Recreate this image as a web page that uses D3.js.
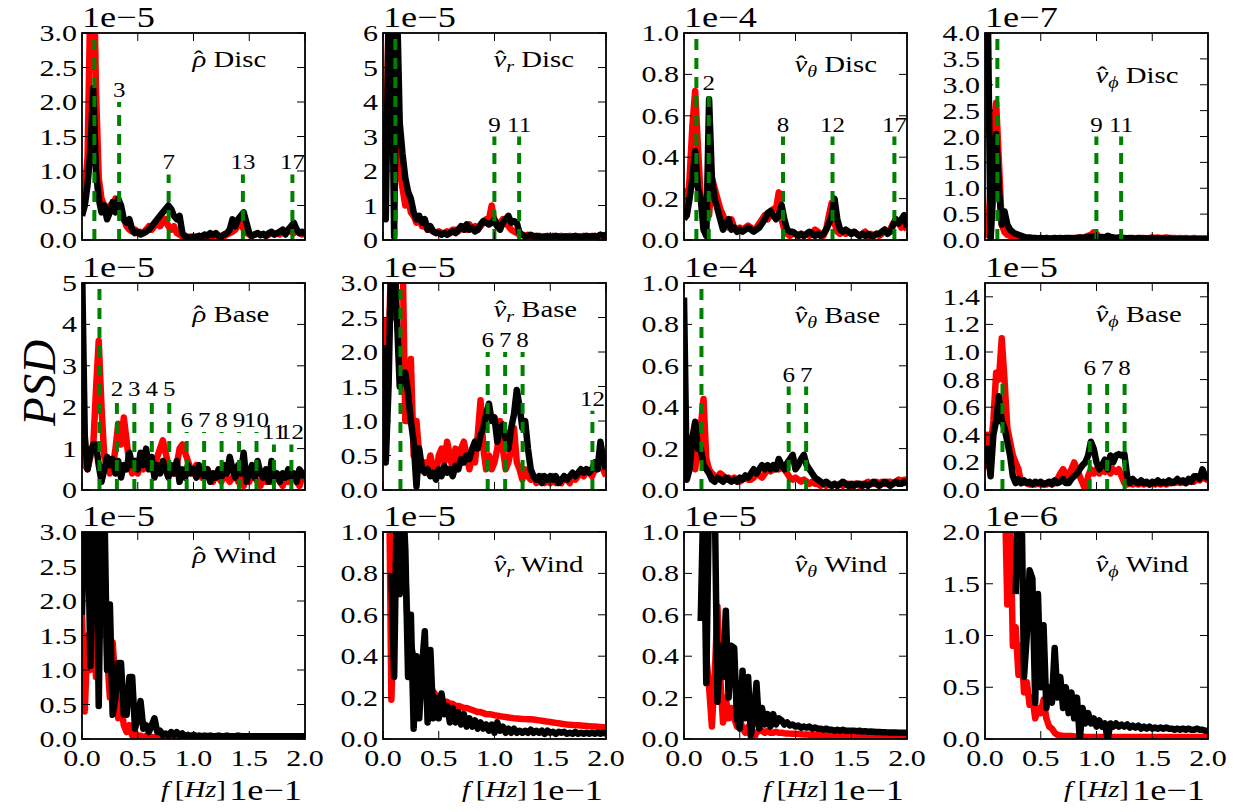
<!DOCTYPE html>
<html>
<head>
<meta charset="utf-8">
<script src="https://cdn.jsdelivr.net/npm/d3@7"></script>
<style>
  body { margin: 0; background: #fff; }
  text { font-family: 'Liberation Serif', 'Times New Roman', serif; fill: #000; }
</style>
</head>
<body>
<div id="chart"></div>
<script>
var width = 1237,
    height = 812;

// frequency grid, units of 1e-1 Hz
var freq = d3.range(81).map(function(i){ return i * 0.025; });

// ---- row 1 : Disc ----
var rhoDiscRed = [0.5, 0.7, 1.2, 3.5, 4.5, 2.2, 0.9, 0.6, 0.5, 0.35,
 0.5, 0.45, 0.6, 0.5, 0.35, 0.3, 0.2, 0.15, 0.12, 0.15,
 0.1, 0.12, 0.1, 0.15, 0.2, 0.15, 0.2, 0.28, 0.2, 0.25,
 0.3, 0.2, 0.15, 0.2, 0.1, 0.08, 0.05, 0.06, 0.04, 0.05,
 0.04, 0.05, 0.06, 0.04, 0.05, 0.06, 0.05, 0.04, 0.06, 0.05,
 0.06, 0.05, 0.08, 0.1, 0.12, 0.15, 0.22, 0.25, 0.15, 0.1,
 0.08, 0.06, 0.08, 0.1, 0.07, 0.08, 0.06, 0.08, 0.1, 0.08,
 0.1, 0.08, 0.12, 0.1, 0.15, 0.12, 0.1, 0.15, 0.1, 0.08, 0.1];
var rhoDiscBlack = [0.35, 0.5, 0.8, 1.3, 2.2, 1.0, 0.6, 0.4, 0.5, 0.3,
 0.4, 0.55, 0.4, 0.6, 0.5, 0.3, 0.25, 0.3, 0.15, 0.1,
 0.12, 0.08, 0.1, 0.12, 0.15, 0.2, 0.25, 0.3, 0.35, 0.4,
 0.45, 0.5, 0.45, 0.35, 0.3, 0.35, 0.1, 0.05, 0.04, 0.03,
 0.05, 0.04, 0.06, 0.05, 0.08, 0.06, 0.1, 0.07, 0.1, 0.06,
 0.05, 0.08, 0.1, 0.15, 0.3, 0.2, 0.3, 0.35, 0.4, 0.25,
 0.1, 0.06, 0.08, 0.1, 0.07, 0.09, 0.06, 0.1, 0.12, 0.08,
 0.1, 0.12, 0.15, 0.08, 0.15, 0.2, 0.25, 0.15, 0.1, 0.12, 0.08];
var vrDiscRed = [3.7, 2.0, 6.5, 7.0, 6.5, 3.0, 2.0, 1.5, 1.0, 1.2,
 0.8, 0.7, 0.5, 0.6, 0.4, 0.4, 0.3, 0.3, 0.25, 0.2,
 0.25, 0.2, 0.2, 0.25, 0.2, 0.3, 0.3, 0.25, 0.35, 0.4,
 0.3, 0.45, 0.35, 0.4, 0.3, 0.4, 0.5, 0.6, 0.6, 1.0,
 0.5, 0.4, 0.5, 0.6, 0.5, 0.4, 0.3, 0.25, 0.2, 0.15,
 0.15, 0.12, 0.15, 0.1, 0.12, 0.1, 0.12, 0.1, 0.1, 0.12,
 0.1, 0.12, 0.1, 0.1, 0.12, 0.1, 0.1, 0.12, 0.1, 0.1,
 0.1, 0.1, 0.12, 0.1, 0.1, 0.12, 0.1, 0.1, 0.15, 0.12, 0.15];
var vrDiscBlack = [3.5, 0.6, 6.5, 7.0, 0.1, 7.0, 3.4, 2.5, 1.8, 1.4,
 1.2, 0.8, 0.6, 0.7, 0.5, 0.6, 0.3, 0.4, 0.25, 0.2,
 0.2, 0.15, 0.2, 0.15, 0.2, 0.25, 0.2, 0.3, 0.4, 0.3,
 0.45, 0.3, 0.35, 0.25, 0.3, 0.45, 0.55, 0.5, 0.45, 0.5,
 0.6, 0.4, 0.3, 0.5, 0.6, 0.7, 0.5, 0.55, 0.5, 0.2,
 0.15, 0.1, 0.12, 0.15, 0.1, 0.12, 0.1, 0.08, 0.1, 0.1,
 0.08, 0.1, 0.12, 0.1, 0.08, 0.1, 0.1, 0.08, 0.1, 0.12,
 0.1, 0.08, 0.1, 0.12, 0.1, 0.1, 0.12, 0.1, 0.15, 0.12, 0.15];
var vthDiscRed = [0.25, 0.12, 0.3, 0.55, 0.72, 0.45, 0.2, 0.15, 0.1, 0.12,
 0.3, 0.25, 0.2, 0.15, 0.12, 0.08, 0.06, 0.1, 0.06, 0.05,
 0.06, 0.05, 0.06, 0.07, 0.06, 0.05, 0.06, 0.08, 0.1, 0.12,
 0.1, 0.12, 0.15, 0.15, 0.23, 0.1, 0.05, 0.03, 0.02, 0.03,
 0.03, 0.02, 0.03, 0.02, 0.03, 0.02, 0.03, 0.05, 0.04, 0.03,
 0.02, 0.05, 0.12, 0.18, 0.08, 0.04, 0.03, 0.04, 0.03, 0.04,
 0.03, 0.04, 0.03, 0.02, 0.03, 0.04, 0.02, 0.03, 0.02, 0.03,
 0.02, 0.03, 0.05, 0.04, 0.05, 0.08, 0.1, 0.08, 0.06, 0.07, 0.05];
var vthDiscBlack = [0.1, 0.12, 0.2, 0.3, 0.43, 0.25, 0.2, 0.05, 0.02, 0.68,
 0.3, 0.2, 0.15, 0.1, 0.05, 0.08, 0.1, 0.05, 0.06, 0.04,
 0.05, 0.04, 0.05, 0.06, 0.05, 0.04, 0.05, 0.06, 0.08, 0.1,
 0.13, 0.14, 0.12, 0.1, 0.12, 0.17, 0.1, 0.05, 0.04, 0.04,
 0.03, 0.02, 0.03, 0.02, 0.03, 0.04, 0.03, 0.02, 0.03, 0.02,
 0.03, 0.05, 0.08, 0.12, 0.2, 0.1, 0.05, 0.04, 0.05, 0.04,
 0.03, 0.04, 0.03, 0.02, 0.03, 0.02, 0.03, 0.02, 0.02, 0.03,
 0.03, 0.04, 0.05, 0.03, 0.04, 0.07, 0.1, 0.08, 0.1, 0.12, 0.06];
var vphDiscRed = [0.5, 0.1, 1.0, 2.2, 2.65, 1.5, 0.3, 0.15, 0.1, 0.08,
 0.06, 0.05, 0.05, 0.04, 0.04, 0.03, 0.03, 0.03, 0.03, 0.02,
 0.03, 0.02, 0.03, 0.02, 0.03, 0.03, 0.02, 0.03, 0.02, 0.03,
 0.03, 0.04, 0.03, 0.04, 0.05, 0.05, 0.06, 0.08, 0.1, 0.15,
 0.12, 0.05, 0.04, 0.03, 0.04, 0.03, 0.04, 0.03, 0.04, 0.03,
 0.03, 0.03, 0.03, 0.04, 0.03, 0.03, 0.04, 0.04, 0.03, 0.04,
 0.05, 0.04, 0.05, 0.04, 0.04, 0.05, 0.04, 0.04, 0.04, 0.03,
 0.04, 0.03, 0.04, 0.03, 0.03, 0.04, 0.03, 0.03, 0.03, 0.03, 0.03];
var vphDiscBlack = [4.5, 4.5, 0.0, 1.0, 2.05, 1.0, 0.3, 0.55, 0.3, 0.2,
 0.15, 0.12, 0.1, 0.08, 0.06, 0.05, 0.05, 0.04, 0.04, 0.03,
 0.04, 0.03, 0.04, 0.03, 0.03, 0.04, 0.03, 0.04, 0.03, 0.04,
 0.04, 0.03, 0.04, 0.04, 0.05, 0.04, 0.05, 0.06, 0.06, 0.07,
 0.06, 0.05, 0.06, 0.05, 0.08, 0.06, 0.05, 0.04, 0.05, 0.04,
 0.04, 0.03, 0.04, 0.03, 0.03, 0.04, 0.03, 0.03, 0.03, 0.03,
 0.03, 0.03, 0.03, 0.02, 0.03, 0.02, 0.03, 0.02, 0.02, 0.02,
 0.02, 0.02, 0.02, 0.02, 0.02, 0.02, 0.02, 0.02, 0.02, 0.02, 0.02];

// ---- row 2 : Base ----
var rhoBaseRed = [2.0, 0.6, 0.5, 0.8, 1.0, 2.4, 3.6, 2.0, 0.8, 0.6,
 0.4, 0.5, 1.0, 1.6, 1.1, 1.75, 1.2, 0.6, 0.4, 0.5,
 0.4, 0.6, 0.5, 0.7, 0.6, 0.5, 0.6, 0.8, 1.0, 1.2,
 0.9, 0.6, 0.5, 0.4, 0.6, 1.0, 1.1, 0.9, 0.7, 0.5,
 0.4, 0.6, 0.5, 0.3, 0.4, 0.5, 0.3, 0.2, 0.4, 0.3,
 0.2, 0.4, 0.3, 0.2, 0.3, 0.4, 0.2, 0.3, 0.1, 0.3,
 0.2, 0.4, 0.3, 0.2, 0.1, 0.3, 0.2, 0.3, 0.2, 0.4,
 0.3, 0.2, 0.1, 0.3, 0.2, 0.4, 0.3, 0.2, 0.1, 0.3, 0.2];
var rhoBaseBlack = [5.5, 1.3, 0.5, 0.9, 1.1, 1.1, 0.6, 0.2, 0.5, 0.8,
 0.6, 0.75, 0.4, 0.7, 0.3, 0.6, 0.5, 0.9, 0.6, 0.7,
 0.5, 0.9, 0.6, 1.0, 0.5, 0.8, 0.3, 0.6, 0.4, 0.7,
 0.5, 0.3, 0.6, 0.4, 0.7, 0.2, 0.5, 0.3, 0.6, 0.4,
 0.5, 0.3, 0.6, 0.4, 0.3, 0.5, 0.2, 0.4, 0.3, 0.5,
 0.3, 0.6, 0.4, 0.8, 0.5, 0.3, 0.6, 0.4, 0.9, 0.2,
 0.4, 0.6, 0.3, 0.7, 0.4, 0.3, 0.5, 0.2, 0.7, 0.3,
 0.4, 0.2, 0.4, 0.3, 0.5, 0.3, 0.4, 0.2, 0.5, 0.4, 0.3];
var vrBaseRed = [2.5, 1.2, 2.0, 3.5, 2.5, 3.5, 3.5, 3.5, 1.0, 1.0,
 1.9, 0.5, 1.0, 0.5, 0.3, 0.4, 0.3, 0.5, 0.3, 0.2,
 0.5, 0.6, 0.4, 0.7, 0.5, 0.3, 0.6, 0.4, 0.6, 0.7,
 0.5, 0.3, 0.5, 0.4, 0.8, 1.3, 0.6, 0.3, 0.5, 0.3,
 0.4, 0.6, 1.0, 0.6, 0.3, 0.4, 0.6, 0.9, 0.4, 0.3,
 0.15, 0.3, 0.2, 0.15, 0.2, 0.1, 0.15, 0.2, 0.1, 0.15,
 0.1, 0.2, 0.1, 0.15, 0.1, 0.2, 0.15, 0.1, 0.2, 0.15,
 0.2, 0.25, 0.2, 0.3, 0.25, 0.2, 0.3, 0.4, 0.5, 0.3, 0.2];
var vrBaseBlack = [2.1, 0.4, 1.5, 3.5, 3.5, 2.5, 1.5, 1.6, 1.7, 1.4,
 1.0, 0.7, 0.05, 0.6, 0.3, 0.25, 0.3, 0.2, 0.25, 0.15,
 0.3, 0.2, 0.35, 0.25, 0.3, 0.2, 0.35, 0.3, 0.45, 0.4,
 0.5, 0.45, 0.6, 0.7, 0.6, 0.8, 0.9, 1.1, 1.25, 1.0,
 1.05, 0.7, 0.9, 0.95, 0.75, 0.6, 0.9, 1.1, 1.45, 1.2,
 0.9, 1.0, 0.6, 0.3, 0.2, 0.15, 0.2, 0.1, 0.2, 0.15,
 0.2, 0.15, 0.2, 0.1, 0.15, 0.2, 0.15, 0.2, 0.25, 0.2,
 0.25, 0.3, 0.25, 0.3, 0.25, 0.3, 0.4, 0.3, 0.7, 0.45, 0.3];
var vthBaseRed = [0.05, 0.1, 0.25, 0.15, 0.1, 0.2, 0.3, 0.44, 0.15, 0.1,
 0.08, 0.07, 0.06, 0.08, 0.07, 0.05, 0.06, 0.05, 0.06, 0.05,
 0.04, 0.05, 0.06, 0.05, 0.05, 0.06, 0.08, 0.07, 0.06, 0.08,
 0.1, 0.09, 0.1, 0.12, 0.1, 0.11, 0.1, 0.08, 0.06, 0.05,
 0.06, 0.05, 0.04, 0.05, 0.04, 0.03, 0.04, 0.03, 0.03, 0.02,
 0.03, 0.02, 0.03, 0.02, 0.03, 0.02, 0.03, 0.02, 0.03, 0.03,
 0.02, 0.03, 0.03, 0.02, 0.03, 0.03, 0.04, 0.03, 0.03, 0.04,
 0.03, 0.04, 0.03, 0.04, 0.04, 0.03, 0.04, 0.05, 0.04, 0.05, 0.05];
var vthBaseBlack = [0.93, 0.05, 0.1, 0.25, 0.33, 0.2, 0.2, 0.12, 0.1, 0.08,
 0.05, 0.04, 0.06, 0.05, 0.04, 0.06, 0.05, 0.04, 0.05, 0.04,
 0.06, 0.05, 0.07, 0.06, 0.08, 0.1, 0.08, 0.1, 0.12, 0.1,
 0.12, 0.1, 0.12, 0.1, 0.15, 0.12, 0.1, 0.13, 0.15, 0.17,
 0.1, 0.12, 0.15, 0.17, 0.12, 0.1, 0.08, 0.06, 0.05, 0.04,
 0.03, 0.04, 0.03, 0.02, 0.03, 0.02, 0.03, 0.04, 0.03, 0.02,
 0.03, 0.02, 0.03, 0.03, 0.02, 0.03, 0.02, 0.03, 0.04, 0.03,
 0.02, 0.03, 0.04, 0.03, 0.02, 0.03, 0.04, 0.03, 0.03, 0.04, 0.03];
var vphBaseRed = [0.15, 0.4, 0.3, 0.5, 0.85, 0.8, 1.1, 0.8, 0.45, 0.35,
 0.25, 0.2, 0.15, 0.05, 0.06, 0.05, 0.04, 0.05, 0.04, 0.05,
 0.04, 0.05, 0.04, 0.05, 0.06, 0.05, 0.08, 0.12, 0.15, 0.12,
 0.1, 0.15, 0.2, 0.15, 0.1, 0.05, 0.0, 0.1, 0.15, 0.12,
 0.15, 0.12, 0.15, 0.13, 0.15, 0.12, 0.15, 0.13, 0.15, 0.1,
 0.05, 0.04, 0.05, 0.04, 0.05, 0.04, 0.05, 0.04, 0.05, 0.04,
 0.05, 0.04, 0.05, 0.04, 0.05, 0.04, 0.05, 0.06, 0.05, 0.06,
 0.05, 0.06, 0.05, 0.06, 0.07, 0.06, 0.08, 0.07, 0.1, 0.08, 0.07];
var vphBaseBlack = [0.2, 0.3, 0.1, 0.4, 0.5, 0.68, 0.5, 0.45, 0.35, 0.25,
 0.1, 0.05, 0.08, 0.05, 0.07, 0.05, 0.06, 0.04, 0.06, 0.05,
 0.06, 0.04, 0.05, 0.06, 0.04, 0.07, 0.05, 0.06, 0.08, 0.05,
 0.05, 0.08, 0.1, 0.12, 0.15, 0.18, 0.2, 0.25, 0.35, 0.3,
 0.2, 0.15, 0.18, 0.22, 0.15, 0.25, 0.2, 0.25, 0.26, 0.25,
 0.26, 0.1, 0.05, 0.08, 0.06, 0.05, 0.07, 0.05, 0.06, 0.04,
 0.06, 0.05, 0.07, 0.05, 0.06, 0.05, 0.07, 0.05, 0.06, 0.08,
 0.06, 0.07, 0.05, 0.08, 0.06, 0.1, 0.1, 0.08, 0.15, 0.1, 0.08];

// ---- row 3 : Wind ----
var rhoWindRed = [1.8, 0.4, 1.5, 1.0, 2.6, 0.9, 2.0, 1.5, 2.6, 1.2,
 0.6, 1.4, 0.8, 0.3, 0.5, 0.2, 0.1, 0.2, 0.05, 0.1,
 0.0, 0.05, 0.02, 0.05, 0.01, 0.03, 0.02, 0.03, 0.02, 0.03,
 0.02, 0.03, 0.02, 0.02, 0.03, 0.02, 0.02, 0.03, 0.02, 0.02,
 0.02, 0.02, 0.02, 0.02, 0.02, 0.02, 0.02, 0.02, 0.02, 0.02,
 0.02, 0.02, 0.02, 0.02, 0.02, 0.02, 0.02, 0.02, 0.02, 0.02,
 0.02, 0.02, 0.02, 0.02, 0.02, 0.02, 0.02, 0.02, 0.02, 0.02,
 0.02, 0.02, 0.02, 0.02, 0.02, 0.02, 0.02, 0.02, 0.02, 0.02, 0.02];
var rhoWindBlack = [1.8, 3.5, 3.5, 1.06, 3.5, 3.5, 0.48, 3.5, 3.5, 1.0,
 1.95, 0.35, 0.6, 1.1, 1.1, 0.35, 0.35, 0.9, 0.9, 0.15,
 0.3, 0.55, 0.15, 0.2, 0.1, 0.2, 0.3, 0.1, 0.12, 0.06,
 0.08, 0.05, 0.1, 0.06, 0.1, 0.05, 0.08, 0.04, 0.06, 0.04,
 0.06, 0.04, 0.05, 0.04, 0.05, 0.04, 0.05, 0.04, 0.04, 0.05,
 0.04, 0.04, 0.05, 0.04, 0.04, 0.04, 0.05, 0.04, 0.04, 0.04,
 0.04, 0.04, 0.04, 0.04, 0.04, 0.04, 0.04, 0.04, 0.04, 0.04,
 0.04, 0.04, 0.04, 0.04, 0.04, 0.04, 0.04, 0.04, 0.04, 0.04, 0.04];
var vrWindRed = [null, null, 1.5, 0.19, 0.6, 1.2, 1.2, 1.2, 0.8, 0.5,
 0.45, 0.4, 0.38, 0.35, 0.32, 0.3, 0.28, 0.25, 0.23, 0.21,
 0.2, 0.19, 0.18, 0.18, 0.17, 0.17, 0.16, 0.16, 0.155, 0.15,
 0.15, 0.145, 0.14, 0.135, 0.13, 0.13, 0.125, 0.12, 0.12, 0.118,
 0.115, 0.113, 0.11, 0.108, 0.106, 0.104, 0.102, 0.1, 0.099, 0.098,
 0.097, 0.096, 0.095, 0.095, 0.094, 0.092, 0.09, 0.088, 0.086, 0.084,
 0.082, 0.08, 0.078, 0.076, 0.074, 0.072, 0.07, 0.069, 0.068, 0.067,
 0.066, 0.065, 0.064, 0.063, 0.062, 0.061, 0.06, 0.059, 0.058, 0.057, 0.056];
var vrWindBlack = [null, null, null, 0.8, 0.3, 1.2, 0.7, 1.2, 0.92, 0.3,
 0.6, 0.05, 0.4, 0.1, 0.35, 0.52, 0.08, 0.43, 0.1, 0.2,
 0.1, 0.22, 0.12, 0.16, 0.08, 0.15, 0.08, 0.13, 0.07, 0.12,
 0.06, 0.1, 0.06, 0.09, 0.05, 0.08, 0.05, 0.07, 0.04, 0.07,
 0.03, 0.08, 0.04, 0.06, 0.03, 0.05, 0.03, 0.05, 0.03, 0.04,
 0.03, 0.04, 0.03, 0.045, 0.03, 0.04, 0.03, 0.04, 0.025, 0.04,
 0.03, 0.035, 0.025, 0.035, 0.03, 0.035, 0.025, 0.03, 0.025, 0.035,
 0.025, 0.03, 0.025, 0.03, 0.025, 0.03, 0.025, 0.03, 0.025, 0.03, 0.025];
var vthWindRed = [null, null, null, null, null, null, null, null, 0.4, 0.25,
 0.06, 0.3, 0.64, 0.3, 0.08, 0.2, 0.1, 0.15, 0.1, 0.06,
 0.1, 0.05, 0.03, 0.06, 0.01, 0.0, 0.03, 0.04, 0.04, 0.03,
 0.04, 0.03, 0.03, 0.035, 0.03, 0.03, 0.028, 0.027, 0.026, 0.025,
 0.025, 0.024, 0.023, 0.022, 0.022, 0.021, 0.02, 0.02, 0.02, 0.019,
 0.019, 0.018, 0.018, 0.018, 0.017, 0.017, 0.017, 0.016, 0.016, 0.016,
 0.015, 0.015, 0.015, 0.015, 0.014, 0.014, 0.014, 0.014, 0.014, 0.013,
 0.013, 0.013, 0.013, 0.013, 0.013, 0.012, 0.012, 0.012, 0.012, 0.012, 0.012];
var vthWindBlack = [null, null, null, null, null, null, 0.57, 1.2, 0.27, 1.2,
 1.2, 1.2, 0.18, 0.45, 0.3, 0.62, 0.2, 0.45, 0.44, 0.1,
 0.05, 0.33, 0.1, 0.3, 0.02, 0.1, 0.27, 0.05, 0.15, 0.07,
 0.12, 0.06, 0.12, 0.07, 0.1, 0.09, 0.07, 0.08, 0.065, 0.07,
 0.06, 0.065, 0.055, 0.06, 0.055, 0.06, 0.05, 0.055, 0.05, 0.05,
 0.045, 0.05, 0.045, 0.045, 0.04, 0.045, 0.04, 0.045, 0.04, 0.04,
 0.04, 0.04, 0.038, 0.04, 0.036, 0.038, 0.035, 0.036, 0.035, 0.034,
 0.034, 0.033, 0.033, 0.032, 0.032, 0.031, 0.031, 0.03, 0.03, 0.03, 0.03];
var vphWindRed = [null, null, null, null, null, null, null, 2.5, 1.3, 2.2,
 0.9, 1.08, 0.62, 0.9, 0.45, 0.55, 0.33, 0.4, 0.2, 0.3,
 0.25, 0.38, 0.2, 0.12, 0.1, 0.06, 0.04, 0.035, 0.03, 0.03,
 0.03, 0.03, 0.025, 0.025, 0.025, 0.025, 0.02, 0.02, 0.02, 0.02,
 0.02, 0.02, 0.02, 0.02, 0.02, 0.02, 0.02, 0.02, 0.02, 0.02,
 0.02, 0.02, 0.02, 0.02, 0.02, 0.02, 0.02, 0.02, 0.02, 0.02,
 0.02, 0.02, 0.02, 0.02, 0.02, 0.02, 0.02, 0.02, 0.02, 0.02,
 0.02, 0.02, 0.02, 0.02, 0.02, 0.02, 0.02, 0.02, 0.02, 0.02, 0.02];
var vphWindBlack = [null, null, null, null, null, null, null, null, null, null,
 null, 1.4, 2.5, 2.5, 0.6, 1.0, 1.63, 1.55, 0.35, 1.4,
 0.5, 1.1, 0.3, 0.5, 0.35, 0.88, 0.4, 0.6, 0.3, 0.5,
 0.25, 0.45, 0.2, 0.4, 0.0, 0.3, 0.15, 0.25, 0.15, 0.2,
 0.12, 0.18, 0.12, 0.15, 0.0, 0.15, 0.12, 0.15, 0.12, 0.14,
 0.12, 0.14, 0.11, 0.13, 0.11, 0.13, 0.1, 0.12, 0.1, 0.12,
 0.1, 0.11, 0.1, 0.11, 0.1, 0.11, 0.1, 0.1, 0.09, 0.1,
 0.09, 0.1, 0.09, 0.1, 0.09, 0.09, 0.1, 0.09, 0.09, 0.08, 0.08];

// axes settings per panel (row by row)
var symbols = ['ρ', 'v', 'v', 'v'];
var subscripts = [null, 'r', 'θ', 'ϕ'];
var regions = ['Disc', 'Base', 'Wind'];
var yMax = [3, 6, 1, 4, 5, 3, 1, 1.5, 3, 1, 1, 2];
var yStep = [0.5, 1, 0.2, 0.5, 1, 0.5, 0.2, 0.2, 0.5, 0.2, 0.2, 0.5];
var exponents = ['1e−5', '1e−5', '1e−4', '1e−7', '1e−5', '1e−5', '1e−4', '1e−5', '1e−5', '1e−5', '1e−5', '1e−6'];
var xTicks = [0, 0.5, 1.0, 1.5, 2.0];

// harmonic markers (green dashed lines)
var f0 = [0.111, 0.111, 0.111, 0.111, 0.1565, 0.1565, 0.1565, 0.1565, 0, 0, 0, 0];
var modeN = [[1, 3, 7, 13, 17], [1, 9, 11], [1, 2, 8, 12, 17], [1, 9, 11],
             [1, 2, 3, 4, 5, 6, 7, 8, 9, 10, 11, 12], [1, 6, 7, 8, 12], [1, 6, 7], [1, 6, 7, 8],
             [], [], [], []];
var modeH = [[3.5, 2, 0.95, 0.95, 0.95], [7, 3, 3], [1.2, 0.7, 0.5, 0.5, 0.5], [4.5, 2, 2],
             [5.5, 2.15, 2.15, 2.15, 2.15, 1.4, 1.4, 1.4, 1.4, 1.4, 1.1, 1.1], [3.5, 2, 2, 2, 1.15], [1.2, 0.5, 0.5], [0.8, 0.8, 0.8, 0.8],
             [], [], [], []];

var redSeries = [rhoDiscRed, vrDiscRed, vthDiscRed, vphDiscRed,
                 rhoBaseRed, vrBaseRed, vthBaseRed, vphBaseRed,
                 rhoWindRed, vrWindRed, vthWindRed, vphWindRed];
var blackSeries = [rhoDiscBlack, vrDiscBlack, vthDiscBlack, vphDiscBlack,
                   rhoBaseBlack, vrBaseBlack, vthBaseBlack, vphBaseBlack,
                   rhoWindBlack, vrWindBlack, vthWindBlack, vphWindBlack];

// layout
var cols = [82, 383, 684, 985],
    rows = [33, 283, 532],
    pw = 223,
    ph = 207,
    sx = 1.25;
var titleDrop = [34, 34, 39, 50, 39, 34, 40, 39, 31, 40, 40, 40];

var svg = d3.select('#chart').append('svg')
    .attr('width', width)
    .attr('height', height);

var x = d3.scaleLinear().domain([0, 2]).range([0, pw]);

function stretched(g, px, py, anchor, size){
    return g.append('text')
        .attr('transform', 'translate(' + px + ',' + py + ') scale(' + sx + ',1)')
        .attr('text-anchor', anchor)
        .style('font-size', size + 'px');
}

redSeries.forEach(function(red, k){
    var r = Math.floor(k / 4), c = k % 4;
    var g = svg.append('g')
        .attr('transform', 'translate(' + cols[c] + ',' + rows[r] + ')');

    var y = d3.scaleLinear().domain([0, yMax[k]]).range([ph, 0]);

    g.append('clipPath').attr('id', 'clip' + k)
        .append('rect').attr('width', pw).attr('height', ph);

    var plot = g.append('g').attr('clip-path', 'url(#clip' + k + ')');

    var line = d3.line()
        .defined(function(d){ return d != null; })
        .x(function(d, i){ return x(freq[i]); })
        .y(function(d){ return y(d); });

    plot.append('path')
        .attr('d', line(red))
        .attr('fill', 'none')
        .attr('stroke', '#ff0000')
        .attr('stroke-width', 6.5)
        .attr('stroke-linejoin', 'round');

    plot.append('path')
        .attr('d', line(blackSeries[k]))
        .attr('fill', 'none')
        .attr('stroke', '#000')
        .attr('stroke-width', 6.5)
        .attr('stroke-linejoin', 'round');

    // harmonics
    modeN[k].forEach(function(n, j){
        var fx = x(n * f0[k]);
        plot.append('line')
            .attr('x1', fx).attr('x2', fx)
            .attr('y1', y(0)).attr('y2', y(modeH[k][j]))
            .attr('stroke', '#008000')
            .attr('stroke-width', 4)
            .attr('stroke-dasharray', '11,8');
        if(n > 1){
            stretched(g, fx, y(modeH[k][j]) - 5, 'middle', 20).text(n);
        }
    });

    // frame and inward ticks
    g.append('rect')
        .attr('width', pw).attr('height', ph)
        .attr('fill', 'none')
        .attr('stroke', '#000')
        .attr('stroke-width', 1.8);

    var yTicks = d3.range(0, yMax[k] + 1e-9, yStep[k]);
    var fmt = yStep[k] >= 1 ? d3.format('d') : d3.format('.1f');

    yTicks.forEach(function(t){
        g.append('line').attr('x1', 0).attr('x2', 8).attr('y1', y(t)).attr('y2', y(t))
            .attr('stroke', '#000').attr('stroke-width', 1);
        g.append('line').attr('x1', pw - 8).attr('x2', pw).attr('y1', y(t)).attr('y2', y(t))
            .attr('stroke', '#000').attr('stroke-width', 1);
        stretched(g, -5, y(t) + 8, 'end', 24).text(fmt(t));
    });

    xTicks.forEach(function(t){
        g.append('line').attr('x1', x(t)).attr('x2', x(t)).attr('y1', ph - 8).attr('y2', ph)
            .attr('stroke', '#000').attr('stroke-width', 1);
        g.append('line').attr('x1', x(t)).attr('x2', x(t)).attr('y1', 0).attr('y2', 8)
            .attr('stroke', '#000').attr('stroke-width', 1);
        if(r == 2){
            stretched(g, x(t), ph + 27, 'middle', 24).text(d3.format('.1f')(t));
        }
    });

    // offset text of the y axis
    stretched(g, 0, -6, 'start', 29).text(exponents[k]);

    // panel title, hat drawn as a tspan pulled back over the symbol
    var symW = c == 0 ? 11.5 : 10.2;
    var tt = stretched(g, pw / 2 - 1, titleDrop[k], 'start', 23);
    tt.append('tspan').style('font-style', 'italic').text(symbols[c]);
    tt.append('tspan').attr('dx', -symW + 1.5).text('ˆ');
    if(subscripts[c]){
        tt.append('tspan').style('font-style', 'italic').style('font-size', '16px')
            .attr('dx', symW - 1.5 - 7.66).attr('dy', 5).text(subscripts[c]);
        tt.append('tspan').attr('dy', -5).text(' ' + regions[r]);
    } else {
        tt.append('tspan').attr('dx', symW - 1.5 - 7.66).text(' ' + regions[r]);
    }

    // x label
    if(r == 2){
        var xl = stretched(g, pw / 2, ph + 58, 'middle', 23);
        xl.append('tspan').style('font-style', 'italic').text('f');
        xl.append('tspan').text('\u2009[');
        xl.append('tspan').style('font-style', 'italic').text('Hz');
        xl.append('tspan').text(']');
        stretched(g, pw - 3, ph + 61, 'end', 29).text('1e−1');
    }
});

svg.append('text')
    .attr('transform', 'translate(55,383) rotate(-90)')
    .attr('text-anchor', 'middle')
    .style('font-size', '47px')
    .style('font-style', 'italic')
    .text('PSD');
</script>
</body>
</html>
